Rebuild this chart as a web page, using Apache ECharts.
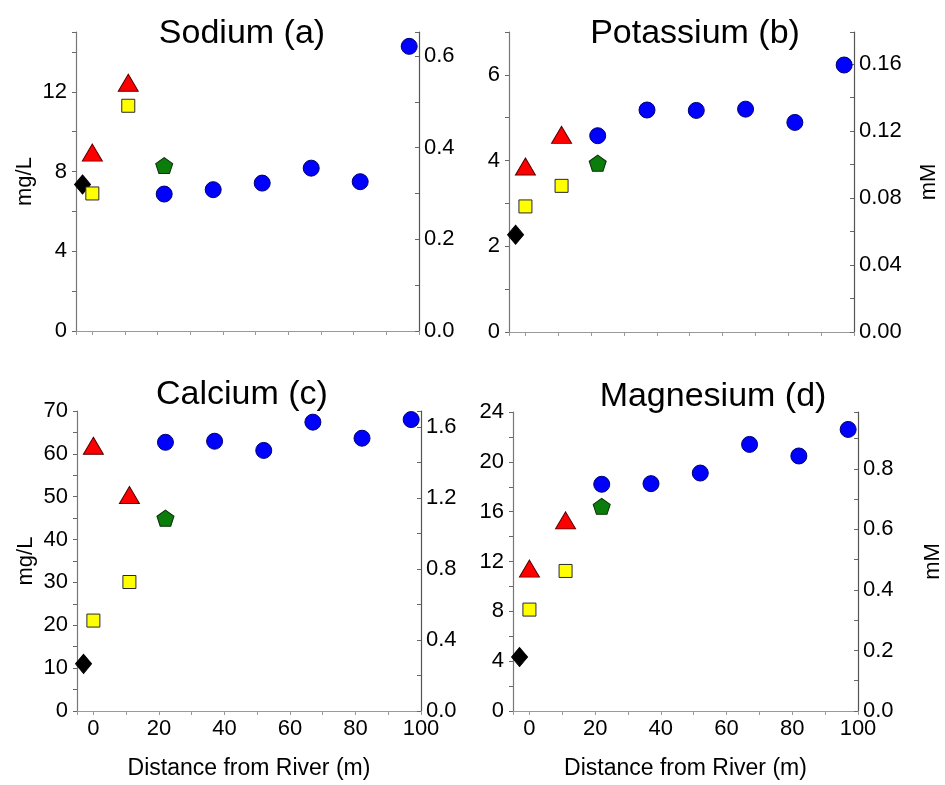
<!DOCTYPE html>
<html>
<head>
<meta charset="utf-8">
<title>Major cations vs distance from river</title>
<script src="https://cdn.jsdelivr.net/npm/echarts@6/dist/echarts.min.js"></script>
<style>
  html, body { margin: 0; padding: 0; background: #fff; }
  #chart { width: 945px; height: 785px; }
</style>
</head>
<body>
<div id="chart"></div>
<script>
// Sampling distances (m) for each site group
const distRiver = [-3];
const distSquare = [0, 11];
const distTriangle = [0, 11];
const distPentagon = [22];
const distCircle = [22, 37, 52, 67, 82, 97];

// Concentrations, mg/L
const sodiumRiver = [7.35];
const sodiumSquare = [6.9, 11.3];
const sodiumTriangle = [8.95, 12.45];
const sodiumPentagon = [8.3];
const sodiumCircle = [6.87, 7.09, 7.42, 8.17, 7.49, 14.28];

const potassiumRiver = [2.27];
const potassiumSquare = [2.93, 3.41];
const potassiumTriangle = [3.86, 4.6];
const potassiumPentagon = [3.94];
const potassiumCircle = [4.58, 5.18, 5.17, 5.2, 4.89, 6.23];

const calciumRiver = [11.0];
const calciumSquare = [21.1, 30.1];
const calciumTriangle = [61.9, 50.4];
const calciumPentagon = [45.0];
const calciumCircle = [62.7, 62.95, 60.8, 67.4, 63.65, 68.0];

const magnesiumRiver = [4.33];
const magnesiumSquare = [8.14, 11.24];
const magnesiumTriangle = [11.43, 15.3];
const magnesiumPentagon = [16.43];
const magnesiumCircle = [18.2, 18.25, 19.1, 21.4, 20.47, 22.6];

// Tick labels
const distanceTicks = ['0', '20', '40', '60', '80', '100'];
const sodiumLeftTicks = ['0', '4', '8', '12'];
const sodiumRightTicks = ['0.0', '0.2', '0.4', '0.6'];
const potassiumLeftTicks = ['0', '2', '4', '6'];
const potassiumRightTicks = ['0.00', '0.04', '0.08', '0.12', '0.16'];
const calciumLeftTicks = ['0', '10', '20', '30', '40', '50', '60', '70'];
const calciumRightTicks = ['0.0', '0.4', '0.8', '1.2', '1.6'];
const magnesiumLeftTicks = ['0', '4', '8', '12', '16', '20', '24'];
const magnesiumRightTicks = ['0.0', '0.2', '0.4', '0.6', '0.8'];

const FONT = '"Liberation Sans", Arial, sans-serif';
const PENTAGON = 'path://M50,0 L97.55,34.55 L79.39,90.45 L20.61,90.45 L2.45,34.55 Z';

const panels = [
  { title: 'Sodium (a)', titleX: 237, titleY: 12, grid: { left: 76, top: 32, width: 343, height: 299 },
    bottom: false, leftName: 'mg/L', rightName: '',
    left: { max: 15, interval: 2, ticks: sodiumLeftTicks, digits: 0 },
    right: { max: 0.6525, interval: 0.1, ticks: sodiumRightTicks, digits: 1 },
    data: [sodiumRiver, sodiumSquare, sodiumTriangle, sodiumPentagon, sodiumCircle] },
  { title: 'Potassium (b)', titleX: 690, titleY: 12, grid: { left: 509, top: 32, width: 345, height: 300 },
    bottom: false, leftName: '', rightName: 'mM',
    left: { max: 7, interval: 1, ticks: potassiumLeftTicks, digits: 0 },
    right: { max: 0.17904, interval: 0.02, ticks: potassiumRightTicks, digits: 2 },
    data: [potassiumRiver, potassiumSquare, potassiumTriangle, potassiumPentagon, potassiumCircle] },
  { title: 'Calcium (c)', titleX: 237, titleY: 373, grid: { left: 77, top: 411, width: 344, height: 300 },
    bottom: true, leftName: 'mg/L', rightName: '',
    left: { max: 70, interval: 5, ticks: calciumLeftTicks, digits: 0 },
    right: { max: 1.69, interval: 0.2, ticks: calciumRightTicks, digits: 1 },
    data: [calciumRiver, calciumSquare, calciumTriangle, calciumPentagon, calciumCircle] },
  { title: 'Magnesium (d)', titleX: 708, titleY: 375, grid: { left: 513, top: 412, width: 345, height: 299 },
    bottom: true, leftName: '', rightName: 'mM',
    left: { max: 24, interval: 2, ticks: magnesiumLeftTicks, digits: 0 },
    right: { max: 0.98745, interval: 0.1, ticks: magnesiumRightTicks, digits: 1 },
    data: [magnesiumRiver, magnesiumSquare, magnesiumTriangle, magnesiumPentagon, magnesiumCircle] }
];

const groups = [
  { x: distRiver, symbol: 'diamond', size: [16, 19], color: '#000000', border: '#000000' },
  { x: distSquare, symbol: 'rect', size: 13, color: '#ffff00', border: '#2a2a2a' },
  { x: distTriangle, symbol: 'triangle', size: [20, 17], color: '#ff0000', border: '#5a0000' },
  { x: distPentagon, symbol: PENTAGON, size: [17, 16], color: '#0b7d0b', border: '#0a300a' },
  { x: distCircle, symbol: 'circle', size: 16, color: '#0000ff', border: '#000070' }
];

const labelStyle = { color: '#000', fontSize: 22, fontFamily: FONT };

function yAxisFor(cfg, gridIndex, position, name) {
  const isRight = position === 'right';
  return {
    type: 'value', gridIndex: gridIndex, position: position,
    min: 0, max: cfg.max, interval: cfg.interval,
    name: name, nameLocation: 'middle', nameRotate: 90,
    nameGap: isRight ? 64 : 40,
    nameTextStyle: { color: '#000', fontSize: 22, fontFamily: FONT, padding: [0, 0, 0, 0] },
    splitLine: { show: false },
    axisLine: { show: true, onZero: false, lineStyle: { color: isRight ? '#555' : '#777', width: 1.2 } },
    axisTick: { show: true, inside: isRight, length: 4, lineStyle: { color: '#666' } },
    axisLabel: Object.assign({
      margin: isRight ? 5 : 9,
      showMaxLabel: true,
      formatter: function (v) {
        const s = v.toFixed(cfg.digits);
        return cfg.ticks.indexOf(s) >= 0 ? s : '';
      }
    }, labelStyle)
  };
}

const option = {
  animation: false,
  backgroundColor: '#fff',
  title: panels.map(p => ({
    text: p.title, left: p.titleX, top: p.titleY, textAlign: 'center',
    textStyle: { color: '#000', fontSize: 34, fontWeight: 'normal', fontFamily: FONT }
  })),
  grid: panels.map(p => Object.assign({ outerBoundsMode: 'none', containLabel: false }, p.grid)),
  xAxis: panels.map((p, i) => ({
    type: 'value', gridIndex: i, min: -5, max: 100, splitNumber: 10,
    name: p.bottom ? 'Distance from River (m)' : '',
    nameLocation: 'middle', nameGap: 46,
    nameTextStyle: { color: '#000', fontSize: 23, fontFamily: FONT },
    splitLine: { show: false },
    axisLine: { show: true, onZero: false, lineStyle: { color: '#999', width: 1.2 } },
    axisTick: { show: true, length: 4, lineStyle: { color: '#999' } },
    axisLabel: Object.assign({
      show: p.bottom, margin: 7, showMinLabel: true, showMaxLabel: true,
      formatter: function (v) {
        const s = String(Math.round(v));
        return (Math.abs(v - Math.round(v)) < 1e-6 && distanceTicks.indexOf(s) >= 0) ? s : '';
      }
    }, labelStyle)
  })),
  yAxis: [].concat.apply([], panels.map((p, i) => [
    yAxisFor(p.left, i, 'left', p.leftName),
    yAxisFor(p.right, i, 'right', p.rightName)
  ])),
  series: [].concat.apply([], panels.map((p, i) => groups.map((g, k) => ({
    type: 'scatter',
    xAxisIndex: i, yAxisIndex: 2 * i,
    symbol: g.symbol, symbolSize: g.size,
    itemStyle: { color: g.color, borderColor: g.border, borderWidth: 1, opacity: 1 },
    emphasis: { disabled: true },
    z: 2 + k,
    data: g.x.map((x, j) => [x, p.data[k][j]])
  }))))
};

const chart = echarts.init(document.getElementById('chart'), null, { renderer: 'canvas' });
chart.setOption(option);
</script>
</body>
</html>
